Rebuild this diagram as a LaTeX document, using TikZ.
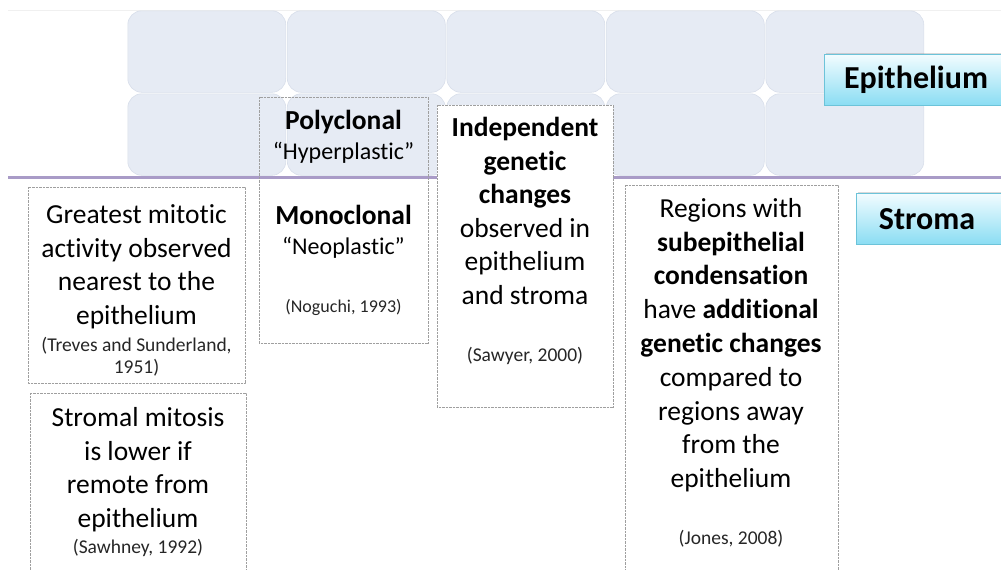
\documentclass[tikz,border=0pt]{standalone}
\usepackage{fontspec}
\setmainfont{Carlito}[Ligatures=NoCommon]
\usetikzlibrary{positioning,shadows}
\definecolor{cellblue}{HTML}{E6EBF4}
\definecolor{cellline}{HTML}{D8DEEA}
\definecolor{layerline}{HTML}{A99BC7}
\definecolor{tagtop}{HTML}{F2FCFF}
\definecolor{tagbot}{HTML}{8ADDF3}
\definecolor{tagline}{HTML}{6CC3D9}
\newcommand{\bigtext}{\fontsize{27.5}{33.5}\selectfont}
\newcommand{\reffont}{\fontsize{19.5}{22}\selectfont}

\begin{document}
\begin{tikzpicture}[
  x=1pt, y=-1pt,
  cell/.style={draw=cellline, fill=cellblue, rounded corners=14pt, line width=0.6pt},
  obsbox/.style={draw=gray!75, line width=0.6pt, dash pattern=on 0.7pt off 0.7pt},
  txt/.style={inner sep=0pt, align=center, anchor=north, font=\bigtext},
  ref/.style={inner sep=0pt, align=center, anchor=north, font=\reffont, text=black!85},
  tag/.style={draw=tagline, line width=0.8pt, top color=tagtop, bottom color=tagbot,
    anchor=north west, inner sep=0pt, minimum height=51pt, minimum width=190pt,
    drop shadow={opacity=0.3, shadow xshift=1.5pt, shadow yshift=1.5pt}},
  tagtxt/.style={font=\fontsize{32}{36}\selectfont\bfseries, inner sep=0pt},
]
  \useasboundingbox (0,0) rectangle (1001,570);
  \clip (0,0) rectangle (1001,570);

  % epithelium cells
  \draw[gray!12, line width=1pt] (8,10) -- (1001,10);
  \foreach \c in {0,...,4}
    \foreach \r in {0,1}
      \draw[cell] ({127+159.5*\c+0.8},{10+83*\r+0.8}) rectangle ++(158,81.5);
  \draw[layerline, line width=3pt] (8,177) -- (1001,177);

  % layer tags
  \node[tag] (epi) at (824,54) {};
  \node[tagtxt] (epitxt) at (916,80) {Epithelium};
  \node[tag] (str) at (856,193) {};
  \node[tagtxt] (strtxt) at (927,219) {Stroma};

  % observation boxes
  \draw[obsbox] (28,187) rectangle (245,383);
  \draw[obsbox] (30,393) rectangle (246,600);
  \draw[obsbox] (259,97) rectangle (428,343);
  \draw[obsbox, fill=white] (437,105) rectangle (613,407);
  \draw[obsbox] (625,185) rectangle (838,600);

  \node[txt] (mitotic) at (136.5,204.5) {Greatest mitotic\\activity observed\\nearest to the\\epithelium};
  \node[ref] (treves) at (136.5,337.5) {(Treves and Sunderland,\\1951)};

  \node[txt] (lower) at (138,407.5) {Stromal mitosis\\is lower if\\remote from\\epithelium};
  \node[ref] (sawhney) at (138,539.5) {(Sawhney, 1992)};

  \node[txt, font=\fontsize{27.5}{30}\selectfont] (poly) at (343.5,110)
    {\textbf{Polyclonal}\\{\fontsize{24}{30}\selectfont “Hyperplastic”}};
  \node[txt, font=\fontsize{27.5}{30}\selectfont] (mono) at (343.5,205)
    {\textbf{Monoclonal}\\{\fontsize{24}{30}\selectfont “Neoplastic”}};
  \node[ref, font=\fontsize{18}{22}\selectfont] (noguchi) at (343.5,299) {(Noguchi, 1993)};

  \node[txt] (indep) at (525,117.5) {\textbf{Independent}\\\textbf{genetic}\\\textbf{changes}\\observed in\\epithelium\\and stroma};
  \node[ref] (sawyer) at (525,347.5) {(Sawyer, 2000)};

  \node[txt, font=\fontsize{27.5}{33.8}\selectfont] (regions) at (731,198) {Regions with\\\textbf{subepithelial}\\\textbf{condensation}\\have \textbf{additional}\\\textbf{genetic changes}\\compared to\\regions away\\from the\\epithelium};
  \node[ref] (jones) at (731,530) {(Jones, 2008)};
\end{tikzpicture}
\end{document}
